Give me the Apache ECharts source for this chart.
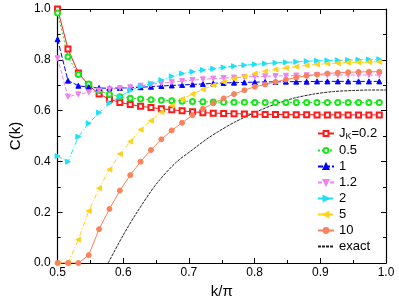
<!DOCTYPE html>
<html><head><meta charset="utf-8">
<script src="https://cdn.jsdelivr.net/npm/echarts@6/dist/echarts.min.js"></script>
<style>html,body{margin:0;padding:0;background:#fff}#c{width:399px;height:308px}</style>
</head><body><div id="c"></div>
<script>
const kValues = [0.5,0.5158,0.5316,0.5474,0.5632,0.579,0.5948,0.6106,0.6264,0.6422,0.658,0.6738,0.6896,0.7054,0.7212,0.737,0.7528,0.7686,0.7844,0.8002,0.816,0.8318,0.8476,0.8634,0.8792,0.895,0.9108,0.9266,0.9424,0.9582,0.974,0.9898];
const seriesNames = ['J_K=0.2','0.5','1','1.2','2','5','10','exact'];
const c02 = [1.0,0.843,0.748,0.70,0.665,0.645,0.632,0.624,0.617,0.612,0.607,0.603,0.599,0.595,0.592,0.590,0.589,0.588,0.587,0.586,0.585,0.585,0.584,0.584,0.584,0.583,0.583,0.583,0.583,0.583,0.583,0.583];
const c05 = [0.984,0.812,0.742,0.705,0.678,0.664,0.655,0.649,0.646,0.643,0.641,0.639,0.637,0.636,0.635,0.634,0.633,0.633,0.633,0.632,0.632,0.632,0.632,0.632,0.632,0.632,0.632,0.632,0.632,0.632,0.632,0.632];
const c1 = [0.881,0.718,0.698,0.692,0.689,0.688,0.689,0.690,0.692,0.694,0.697,0.699,0.701,0.703,0.705,0.707,0.709,0.710,0.711,0.712,0.713,0.713,0.714,0.714,0.714,0.715,0.715,0.715,0.715,0.715,0.715,0.715];
const c12 = [0.806,0.655,0.664,0.672,0.679,0.684,0.688,0.692,0.698,0.703,0.708,0.712,0.716,0.720,0.723,0.726,0.728,0.730,0.732,0.734,0.735,0.736,0.737,0.738,0.739,0.740,0.740,0.740,0.740,0.740,0.740,0.740];
const c2 = [0.421,0.399,0.497,0.550,0.592,0.629,0.655,0.679,0.695,0.707,0.720,0.735,0.746,0.753,0.760,0.765,0.770,0.775,0.779,0.782,0.785,0.788,0.790,0.792,0.794,0.796,0.797,0.798,0.799,0.800,0.801,0.802];
const c5 = [0.0,0.0,0.092,0.205,0.294,0.368,0.429,0.478,0.525,0.560,0.594,0.620,0.645,0.665,0.683,0.700,0.713,0.725,0.735,0.746,0.755,0.762,0.768,0.773,0.778,0.782,0.785,0.787,0.789,0.790,0.791,0.792];
const c10 = [0.0,0.0,0.0,0.031,0.133,0.213,0.285,0.346,0.399,0.445,0.487,0.522,0.552,0.582,0.607,0.629,0.648,0.665,0.680,0.694,0.703,0.713,0.722,0.730,0.737,0.742,0.746,0.749,0.751,0.752,0.753,0.753];
const exactK = [0.577,0.60,0.62,0.65,0.68,0.705,0.726,0.745,0.77,0.80,0.83,0.86,0.89,0.92,0.95,0.975,1.0];
const exactC = [0.0,0.11,0.196,0.31,0.395,0.445,0.486,0.518,0.555,0.592,0.624,0.649,0.665,0.675,0.679,0.681,0.681];
const xTicks = [0.5,0.6,0.7,0.8,0.9,1.0];
const yTicks = [0.0,0.2,0.4,0.6,0.8,1.0];

const pairs = (xs, ys) => xs.map((x, i) => [x, ys[i]]);
const font = 'Liberation Sans, Arial, sans-serif';
function mk(name, data, color, symbol, rot, dash) {
  return {
    name, type: 'line', data: pairs(kValues, data), symbol, symbolSize: 5, symbolRotate: rot,
    lineStyle: {color, width: 1, type: dash},
    itemStyle: {color: color, borderColor: color, borderWidth: 1},
    emphasis: {disabled: true}
  };
}
const chart = echarts.init(document.getElementById('c'));
const axisCommon = {
  min: 0, max: 1, interval: 0.2,
  axisLine: {show: true, onZero: false, lineStyle: {color: '#000', width: 1.2}},
  axisTick: {show: true, inside: true, length: 5, lineStyle: {color: '#000'}},
  minorTick: {show: true, splitNumber: 2, length: 3, lineStyle: {color: '#000'}},
  splitLine: {show: false}
};
chart.setOption({
  animation: false,
  textStyle: {fontFamily: font},
  grid: {left: 56, right: 13, top: 9, bottom: 45},
  xAxis: [
    Object.assign({}, axisCommon, {type: 'value', min: 0.5, max: 1.0, interval: 0.1, position: 'bottom',
      name: 'k/π', nameLocation: 'middle', nameGap: 19,
      nameTextStyle: {fontSize: 15, color: '#000', fontFamily: font},
      axisLabel: {fontSize: 12, color: '#000', margin: 4, fontFamily: font,
        formatter: v => { const t = xTicks.find(x => Math.abs(x - v) < 1e-6); return t === undefined ? '' : t.toFixed(1); }}}),
    Object.assign({}, axisCommon, {type: 'value', min: 0.5, max: 1.0, interval: 0.1, position: 'top', axisLabel: {show: false}})
  ],
  yAxis: [
    Object.assign({}, axisCommon, {type: 'value', position: 'left',
      name: 'C(k)', nameLocation: 'middle', nameGap: 27, nameRotate: 90,
      nameTextStyle: {fontSize: 15, color: '#000', fontFamily: font},
      axisLabel: {fontSize: 12, color: '#000', margin: 7, fontFamily: font,
        formatter: v => { const t = yTicks.find(y => Math.abs(y - v) < 1e-6); return t === undefined ? '' : t.toFixed(1); }}}),
    Object.assign({}, axisCommon, {type: 'value', position: 'right', axisLabel: {show: false}})
  ],
  legend: {
    orient: 'vertical', left: 312, top: 122, itemWidth: 16, itemHeight: 6, itemGap: 3,
    data: seriesNames.map(n => n === 'exact' ? {name: n, itemStyle: {opacity: 0}} : n),
    textStyle: {fontSize: 13, color: '#000', fontFamily: font,
      rich: {sub: {fontSize: 9, padding: [6, 0, 0, 0], fontFamily: font, color: '#000'}}},
    formatter: n => n === 'J_K=0.2' ? 'J{sub|K}=0.2' : n
  },
  series: [
    mk('J_K=0.2', c02, '#ff1a1a', 'emptyRect', 0, 'solid'),
    mk('0.5', c05, '#19e619', 'emptyCircle', 0, [2, 2]),
    mk('1', c1, '#0000ff', 'triangle', 0, [5, 2]),
    mk('1.2', c12, '#ee82ee', 'triangle', 180, [4, 2]),
    mk('2', c2, '#1ee0f8', 'triangle', -90, [5, 2, 1, 2]),
    mk('5', c5, '#ffd21a', 'triangle', 90, [5, 2, 1, 2]),
    mk('10', c10, '#f7835e', 'circle', 0, 'solid'),
    {name: 'exact', type: 'line', data: pairs(exactK, exactC), smooth: 0.3, symbol: 'none',
      lineStyle: {color: '#222', width: 1, type: [3, 1]}, itemStyle: {color: '#000'}, emphasis: {disabled: true}}
  ]
});
</script></body></html>
